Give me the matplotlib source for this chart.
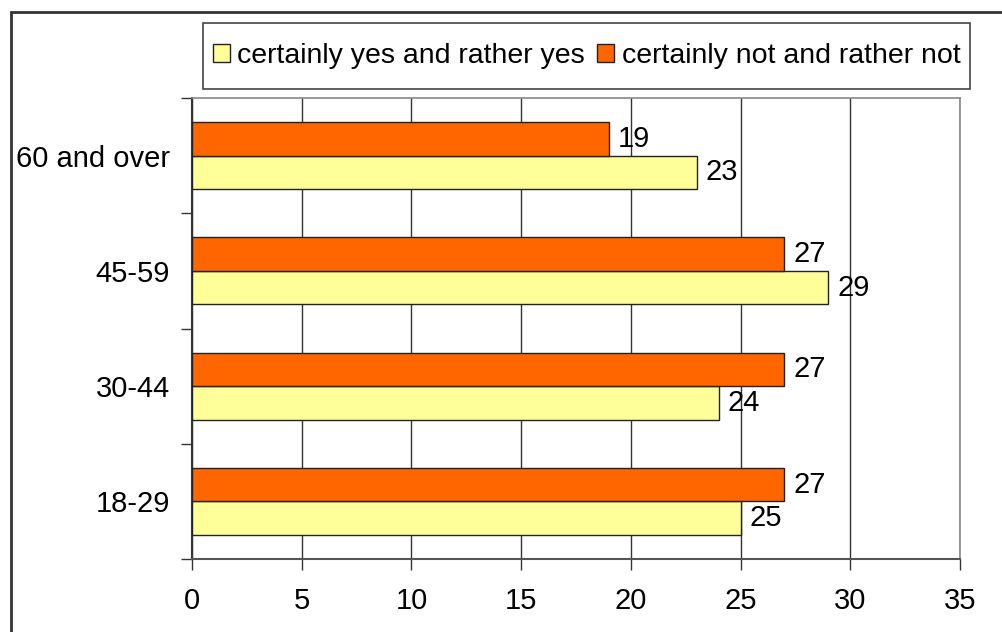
import matplotlib
matplotlib.use('Agg')
import matplotlib.pyplot as plt
from matplotlib.patches import Rectangle
import numpy as np

plt.rcParams['font.family'] = ['Liberation Sans', 'DejaVu Sans']

categories = ['18-29', '30-44', '45-59', '60 and over']
yes_vals = [25, 24, 29, 23]
no_vals = [27, 27, 27, 19]
yes_label = 'certainly yes and rather yes'
no_label = 'certainly not and rather not'
x_ticks = [0, 5, 10, 15, 20, 25, 30, 35]

W, H = 1002, 632
FS = 21
fig = plt.figure(figsize=(W / 100, H / 100), dpi=100)
ax = fig.add_axes([192 / W, (H - 559) / H, (960 - 192) / W, (559 - 98) / H])

y = np.arange(len(categories))
bh = 0.29
ax.barh(y - bh / 2, yes_vals, bh, color='#FFFF99', edgecolor='#222222', linewidth=1,
        label=yes_label, zorder=3)
ax.barh(y + bh / 2, no_vals, bh, color='#FF6600', edgecolor='#222222', linewidth=1,
        label=no_label, zorder=3)

for i in range(len(categories)):
    ax.text(yes_vals[i] + 0.4, y[i] - bh / 2, str(yes_vals[i]), va='center', ha='left',
            fontsize=FS, zorder=4)
    ax.text(no_vals[i] + 0.4, y[i] + bh / 2, str(no_vals[i]), va='center', ha='left',
            fontsize=FS, zorder=4)

ax.set_xlim(0, 35)
ax.set_ylim(-0.5, len(categories) - 0.5)
ax.set_xticks(x_ticks)
ax.set_xticklabels([str(t) for t in x_ticks], fontsize=FS)
ax.set_yticks(y)
ax.set_yticklabels(categories, fontsize=FS)
ax.set_yticks(np.arange(len(categories) + 1) - 0.5, minor=True)
ax.tick_params(axis='y', which='major', length=0, pad=16)
ax.tick_params(axis='y', which='minor', length=8, width=1, direction='out', color='#333333')
ax.tick_params(axis='x', length=8, width=1, direction='out', color='#333333', pad=12)

ax.grid(axis='x', color='#333333', linewidth=1, zorder=0)
ax.set_axisbelow(True)
for s in ['top', 'right']:
    ax.spines[s].set_color('#888888')
    ax.spines[s].set_linewidth(1.2)
ax.spines['left'].set_color('#333333')
ax.spines['left'].set_linewidth(1.5)
ax.spines['bottom'].set_color('#555555')
ax.spines['bottom'].set_linewidth(1.5)

leg = fig.legend(loc='center', bbox_to_anchor=(586.5 / W, 1 - 56 / H), ncol=2, fontsize=20.5,
                 frameon=False, handlelength=0.6, handleheight=0.6, handletextpad=0.25,
                 columnspacing=0.45, borderpad=0, borderaxespad=0)
for h in leg.legend_handles:
    h.set_edgecolor('#222222')

# legend box (taller than the text, as in the original)
fig.patches.append(Rectangle((203 / W, 1 - 89 / H), (970 - 203) / W, 66 / H,
                             transform=fig.transFigure, fill=False,
                             edgecolor='#444444', linewidth=1.2))

# outer chart border (cropped on right and bottom)
fig.patches.append(Rectangle((11 / W, -0.1), 1.2, 1 - 12 / H + 0.1, transform=fig.transFigure,
                             fill=False, edgecolor='#333333', linewidth=2))

fig.savefig('out.png', dpi=100)
